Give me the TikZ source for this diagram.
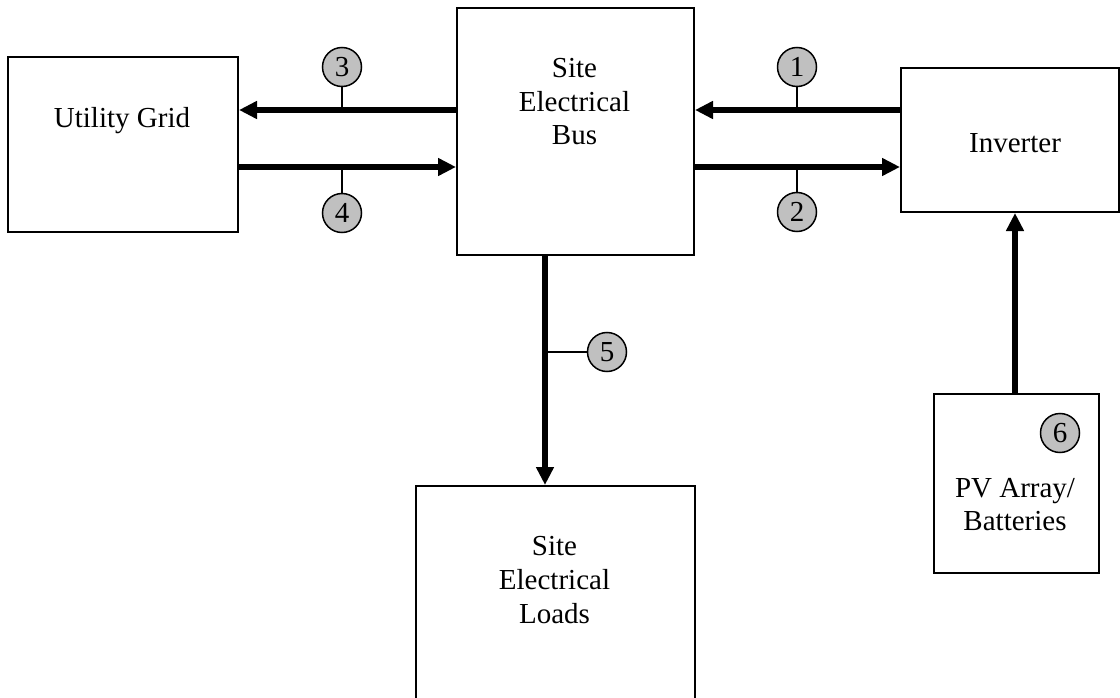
\documentclass[tikz,border=0pt]{standalone}
\usepackage{fontspec}
\setmainfont{Liberation Serif}
\usetikzlibrary{arrows.meta}
\definecolor{circfill}{RGB}{192,192,192}
\begin{document}
\begin{tikzpicture}[x=1pt,y=-1pt,
  box/.style={draw,line width=2pt,anchor=north west,inner sep=0pt,fill=white},
  flow/.style={line width=5.5pt,-{Triangle[length=18pt,width=17pt]}},
  stem/.style={line width=1.5pt},
  numc/.style={circle,draw,line width=1.5pt,fill=circfill,minimum size=39pt,inner sep=0pt,font=\fontsize{29}{34}\selectfont},
  lbl/.style={anchor=base,inner sep=0pt,font=\fontsize{29}{34}\selectfont}]
\useasboundingbox (0,0) rectangle (1120,698);
\fill[white] (0,0) rectangle (1120,698);
% boxes
\node[box,minimum width=230pt,minimum height=175pt] (grid) at (7,56) {};
\node[box,minimum width=237pt,minimum height=247pt] (bus) at (456,7) {};
\node[box,minimum width=218pt,minimum height=144pt] (inv) at (900,67) {};
\node[box,minimum width=165pt,minimum height=179pt] (pv) at (933,393) {};
\node[box,minimum width=279pt,minimum height=240pt] (loads) at (415,485) {};
% texts
\node[lbl] (tgrid) at (122,128) {Utility Grid};
\node[lbl] (tbus1) at (574.5,78) {Site};
\node[lbl] (tbus2) at (574.5,111.5) {Electrical};
\node[lbl] (tbus3) at (574.5,145) {Bus};
\node[lbl] (tinv) at (1015,153) {Inverter};
\node[lbl] (tpv1) at (1015,497) {PV Array/};
\node[lbl] (tpv2) at (1015,530) {Batteries};
\node[lbl] (tld1) at (554.5,555) {Site};
\node[lbl] (tld2) at (554.5,589) {Electrical};
\node[lbl] (tld3) at (554.5,623) {Loads};
% levels
\coordinate (yA) at (0,110);
\coordinate (yB) at (0,167);
\coordinate (xC) at (545,0);
\coordinate (xD) at (1015,0);
% arrows
\draw[flow] (inv.west |- yA) -- (bus.east |- yA);
\draw[flow] (bus.east |- yB) -- (inv.west |- yB);
\draw[flow] (bus.west |- yA) -- (grid.east |- yA);
\draw[flow] (grid.east |- yB) -- (bus.west |- yB);
\draw[flow] (xC |- bus.south) -- (xC |- loads.north);
\draw[flow] (xD |- pv.north) -- (xD |- inv.south);
% numbered circles
\node[numc] (c1) at (797,67) {1};
\node[numc] (c2) at (797,212) {2};
\node[numc] (c3) at (342,67) {3};
\node[numc] (c4) at (342,213) {4};
\node[numc] (c5) at (607,352) {5};
\node[numc] (c6) at (1060,433) {6};
\coordinate (s1) at (c1.south |- yA);
\coordinate (s2) at (c2.north |- yB);
\coordinate (s3) at (c3.south |- yA);
\coordinate (s4) at (c4.north |- yB);
\coordinate (s5) at (xC |- c5.west);
\draw[stem] (c1.south) -- (s1);
\draw[stem] (c2.north) -- (s2);
\draw[stem] (c3.south) -- (s3);
\draw[stem] (c4.north) -- (s4);
\draw[stem] (c5.west) -- (s5);
\end{tikzpicture}
\end{document}
